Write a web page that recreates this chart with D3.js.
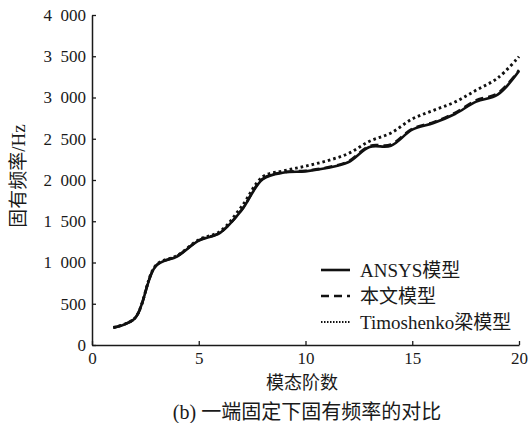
<!DOCTYPE html>
<html><head><meta charset="utf-8">
<script src="https://cdn.jsdelivr.net/npm/d3@7"></script>
<style>
html,body{margin:0;padding:0;background:#fff;}
text{font-family:"Liberation Serif","Noto Sans CJK SC",serif;fill:#1a1a1a;}
</style></head>
<body>
<script>
const modes = [1,2,3,4,5,6,7,8,9,10,11,12,13,14,15,16,17,18,19,20];
const ansys = [210,320,960,1075,1265,1360,1630,2010,2090,2105,2145,2215,2400,2415,2610,2690,2800,2950,3035,3320];
const model = [212,323,962,1080,1268,1364,1636,2016,2095,2112,2152,2225,2412,2430,2622,2700,2813,2966,3050,3332];
const timo  = [212,325,968,1085,1276,1378,1675,2040,2112,2168,2232,2320,2470,2570,2740,2845,2945,3090,3235,3495];
const xTicks = [0,5,10,15,20];
const yTicks = [0,500,1000,1500,2000,2500,3000,3500,4000];
const yTickLabels = ["0","500","1\u2002000","1\u2002500","2\u2002000","2\u2002500","3\u2002000","3\u2002500","4\u2002000"];
const seriesNames = ["ANSYS模型","本文模型","Timoshenko梁模型"];

const W=530,H=423;
const svg=d3.select("body").append("svg").attr("width",W).attr("height",H);
const x=d3.scaleLinear().domain([0,20]).range([92,519]);
const y=d3.scaleLinear().domain([0,4000]).range([345,15]);

const xa=svg.append("g").attr("transform","translate(0,345)")
  .call(d3.axisBottom(x).tickValues(xTicks).tickSize(-4).tickPadding(7).tickSizeOuter(0));
const ya=svg.append("g").attr("transform","translate(92,0)")
  .call(d3.axisLeft(y).tickValues(yTicks).tickSize(-4).tickPadding(6).tickSizeOuter(0)
    .tickFormat((d,i)=>yTickLabels[i]));
[xa,ya].forEach(g=>{
  g.selectAll("path").attr("stroke","#1a1a1a").attr("stroke-width",1.5);
  g.selectAll("line").attr("stroke","#1a1a1a").attr("stroke-width",1.3);
  g.selectAll("text").attr("font-size",17).style("font-family",'"Liberation Serif",serif').attr("fill","#1a1a1a");
});

const styles=[
  {data:ansys,dash:null,w:2.6},
  {data:model,dash:"8,5",w:2.6},
  {data:timo,dash:"2.6,3",w:2.9}
];
const line=d3.line().x(d=>x(d[0])).y(d=>y(d[1])).curve(d3.curveCatmullRom.alpha(0.5));
styles.forEach(s=>{
  svg.append("path").datum(modes.map((m,i)=>[m,s.data[i]]))
    .attr("d",line).attr("fill","none").attr("stroke","#111")
    .attr("stroke-width",s.w).attr("stroke-dasharray",s.dash);
});

// legend
const ly=[270,296,322];
styles.forEach((s,i)=>{
  const dotted = i===2;
  svg.append("line").attr("x1",321).attr("x2",350).attr("y1",ly[i]).attr("y2",ly[i])
    .attr("stroke","#111").attr("stroke-width",dotted?2:2.6)
    .attr("stroke-dasharray",dotted?"1.5,1.5":s.dash);
  svg.append("text").attr("x",360).attr("y",ly[i]).attr("dy","0.35em")
    .attr("font-size",19).text(seriesNames[i]);
});

// titles
svg.append("text").attr("transform","translate(25,176) rotate(-90)")
  .attr("text-anchor","middle").attr("font-size",19).text("固有频率/Hz");
svg.append("text").attr("x",302).attr("y",389).attr("text-anchor","middle")
  .attr("font-size",18).text("模态阶数");
svg.append("text").attr("x",307).attr("y",419).attr("text-anchor","middle")
  .attr("font-size",20).text("(b) 一端固定下固有频率的对比");
</script>
</body></html>
